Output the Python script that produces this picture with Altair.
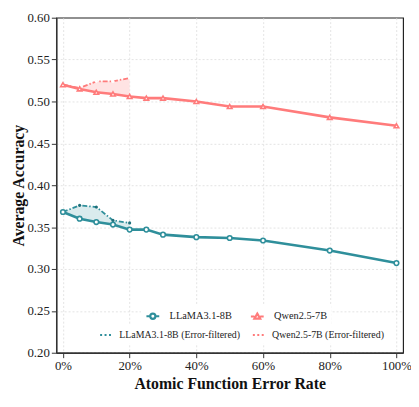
import altair as alt
import pandas as pd

x_rate = [0, 5, 10, 15, 20, 25, 30, 40, 50, 60, 80, 100]
llama = [0.368, 0.360, 0.356, 0.353, 0.347, 0.347, 0.341, 0.338, 0.337, 0.334, 0.322, 0.307]
qwen = [0.520, 0.515, 0.511, 0.509, 0.506, 0.504, 0.504, 0.500, 0.494, 0.494, 0.481, 0.471]
x_f = [0, 5, 10, 15, 20]
llama_f = [0.368, 0.376, 0.374, 0.358, 0.355]
qwen_f = [0.520, 0.516, 0.524, 0.524, 0.528]

names = ["LLaMA3.1-8B", "Qwen2.5-7B"]
names_f = ["LLaMA3.1-8B (Error-filtered)", "Qwen2.5-7B (Error-filtered)"]
colors = ["#2f8f9b", "#ff7b7b"]
fills = ["#d3e8ea", "#ffdede"]
FONT = "Liberation Serif"

# legend symbols: line with a marker on it
legend_shapes = [
    "M-1,0L-0.4,0M0.4,0L1,0M0.4,0A0.4,0.4 0 1 1 -0.4,0A0.4,0.4 0 1 1 0.4,0Z",
    "M-1,0L-0.45,0M0.45,0L1,0M0,-0.45L0.45,0.32L-0.45,0.32Z",
]

main_rows = []
for xv, a, b in zip(x_rate, llama, qwen):
    main_rows.append({"x": xv, "y": a, "model": names[0]})
    main_rows.append({"x": xv, "y": b, "model": names[1]})
main_df = pd.DataFrame(main_rows)

f_rows = []
area_rows = []
for i, xv in enumerate(x_f):
    f_rows.append({"x": xv, "y": llama_f[i], "fmodel": names_f[0]})
    f_rows.append({"x": xv, "y": qwen_f[i], "fmodel": names_f[1]})
    area_rows.append({"x": xv, "lo": llama[i], "hi": llama_f[i], "grp": "l"})
    area_rows.append({"x": xv, "lo": qwen[i], "hi": qwen_f[i], "grp": "q"})
f_df = pd.DataFrame(f_rows)
area_df = pd.DataFrame(area_rows)

xscale = alt.Scale(domain=[-2, 102], nice=False, zero=False)
yscale = alt.Scale(domain=[0.2, 0.6], nice=False, zero=False)
xax = alt.Axis(values=list(range(0, 101, 10)), labelExpr="datum.value + '%'",
               title="Atomic Function Error Rate")
yax = alt.Axis(values=[0.2, 0.25, 0.3, 0.35, 0.4, 0.45, 0.5, 0.55, 0.6], format=".2f",
               title="Average Accuracy",
               gridOpacity=alt.condition("datum.value >= 0.59", alt.value(0), alt.value(1)))

area = alt.Chart(area_df).mark_area(opacity=0.85).encode(
    x=alt.X("x:Q", scale=xscale, axis=xax),
    y=alt.Y("lo:Q", scale=yscale, axis=yax),
    y2="hi:Q",
    fill=alt.Fill("grp:N", scale=alt.Scale(domain=["l", "q"], range=fills), legend=None),
    detail="grp:N",
)

main_line = alt.Chart(main_df).mark_line(strokeWidth=2.6).encode(
    x="x:Q",
    y="y:Q",
    stroke=alt.Stroke("model:N", scale=alt.Scale(domain=names, range=colors), legend=None),
)
main_pts = alt.Chart(main_df).mark_point(fill="white", fillOpacity=1, strokeWidth=1.6, size=22).encode(
    x="x:Q",
    y="y:Q",
    color=alt.Color("model:N", scale=alt.Scale(domain=names, range=colors), legend=None),
    shape=alt.Shape("model:N", scale=alt.Scale(domain=names, range=["circle", "triangle-up"]),
                    legend=None),
)

main_legend = alt.Legend(title=None, orient="none", direction="horizontal",
                         legendX=86, legendY=291, fillColor="white",
                         labelFont=FONT, labelFontSize=10.5, labelColor="#222",
                         symbolStrokeWidth=2.2, symbolSize=169, symbolFillColor="white",
                         symbolOpacity=1, labelOffset=9, padding=4, columnPadding=14)
legend_layer = alt.Chart(main_df).mark_point(opacity=0, filled=False, size=1).encode(
    x="x:Q",
    y="y:Q",
    color=alt.Color("model:N", scale=alt.Scale(domain=names, range=colors), legend=main_legend),
    shape=alt.Shape("model:N", scale=alt.Scale(domain=names, range=legend_shapes),
                    legend=main_legend),
)

f_legend = alt.Legend(title=None, orient="none", direction="horizontal",
                      legendX=39, legendY=311, fillColor="white",
                      labelFont=FONT, labelFontSize=10, labelColor="#222",
                      symbolDash=[2, 2.5], symbolStrokeWidth=2.2, symbolType="stroke",
                      symbolSize=121, labelOffset=7, padding=4, columnPadding=8)
f_line = alt.Chart(f_df).mark_line(strokeWidth=1.8, strokeDash=[5, 2, 1.5, 2]).encode(
    x="x:Q",
    y="y:Q",
    color=alt.Color("fmodel:N", scale=alt.Scale(domain=names_f, range=colors), legend=f_legend),
)
f_pts = alt.Chart(f_df).mark_circle(size=10, opacity=1).encode(
    x="x:Q",
    y="y:Q",
    fill=alt.Fill("fmodel:N", scale=alt.Scale(domain=names_f, range=["#1f6f7a", "#ffffff"]), legend=None),
)

chart = alt.layer(area, f_line, f_pts, main_line, main_pts, legend_layer).resolve_scale(
    fill="independent", color="independent", shape="independent", stroke="independent"
).properties(
    width=352, height=340,
    padding={"left": 49, "top": 7, "right": 8, "bottom": 37},
    autosize=alt.AutoSizeParams(type="none"),
).configure_view(
    stroke="#222", strokeWidth=1.2,
).configure_axis(
    labelFont=FONT, labelFontSize=13, labelColor="#222",
    titleFont=FONT, titleFontSize=16, titleFontWeight="bold", titleColor="#111",
    grid=True, gridColor="#dddddd", gridDash=[2, 2], gridWidth=0.8,
    domainColor="#333", domainWidth=1.5, tickColor="#333", tickSize=5,
).configure_axisY(
    titlePadding=1,
).configure_axisX(
    titlePadding=3,
).configure_legend(
    labelFont=FONT,
)

chart.save("out.html", embed_options={"renderer": "svg", "actions": False})
